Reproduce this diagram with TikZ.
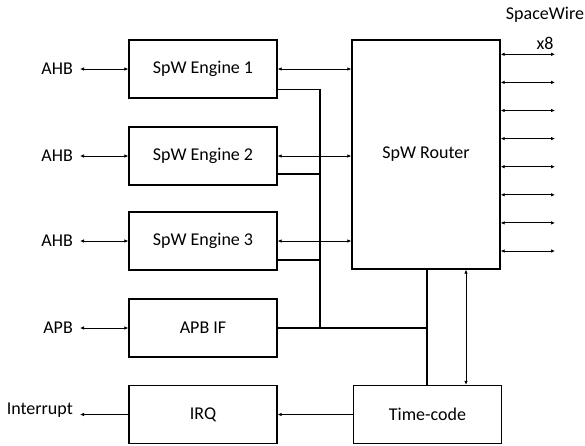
\documentclass[tikz,border=0pt]{standalone}
\usepackage{fontspec}
\setmainfont{Carlito}
\usetikzlibrary{positioning,arrows.meta,calc}
\tikzset{
  blk/.style={rectangle, draw=black, line width=1.4pt, minimum width=148pt,
              font=\fontsize{18}{21}\selectfont, inner sep=0pt},
  lbl/.style={font=\fontsize{18}{21}\selectfont, inner sep=0pt},
  port/.style={lbl, anchor=east, inner xsep=7pt},
  ar/.style={{Latex[length=4pt,width=3.6pt]}-{Latex[length=4pt,width=3.6pt]}, line width=0.9pt},
  ar1/.style={-{Latex[length=4pt,width=3.6pt]}, line width=0.9pt},
  bus/.style={line width=1.1pt},
}
\begin{document}
\begin{tikzpicture}[x=1pt, y=-1pt]
  \useasboundingbox (0,0) rectangle (585,445);

  % engines and interfaces
  \node[blk, minimum height=58pt] (eng1) at (203,69) {SpW Engine 1};
  \node[blk, minimum height=58pt] (eng2) at (203,156) {SpW Engine 2};
  \node[blk, minimum height=58pt] (eng3) at (203,241) {SpW Engine 3};
  \node[blk, minimum height=58pt] (apbif) at (203,328) {APB IF};
  \node[blk, minimum height=58pt] (irq) at (203,414.5) {IRQ};

  % router and time-codes
  \node[blk, minimum height=229pt] (router) at (426,154.5) {SpW Router};
  \node[blk, minimum height=58pt] (tcode) at (427.5,414.5) {Time-code};

  % bus ports
  \node[port] (ahb1) at (80,69) {AHB};
  \node[port] (ahb2) at (80,156) {AHB};
  \node[port] (ahb3) at (80,241) {AHB};
  \node[port] (apb) at (80,328) {APB};
  \node[port] (intr) at (80,410) {Interrupt};
  \draw[ar] (ahb1.east) -- (eng1.west);
  \draw[ar] (ahb2.east) -- (eng2.west);
  \draw[ar] (ahb3.east) -- (eng3.west);
  \draw[ar] (apb.east) -- (apbif.west);
  \draw[ar1] (irq.west) -- (irq.west -| intr.east);

  % engines to router
  \draw[ar] (eng1.east) -- (router.west |- eng1.east);
  \draw[ar] (eng2.east) -- (router.west |- eng2.east);
  \draw[ar] (eng3.east) -- (router.west |- eng3.east);

  % time-code bus
  \coordinate (j1) at (320,89.5);
  \coordinate (j2) at (320,174);
  \coordinate (j3) at (320,260);
  \coordinate (j4) at (320,328);
  \coordinate (j5) at (427,328);
  \draw[bus] (eng1.east |- j1) -- (j1) -- (j4);
  \draw[bus] (eng2.east |- j2) -- (j2);
  \draw[bus] (eng3.east |- j3) -- (j3);
  \draw[bus] (apbif.east) -- (j5);
  \draw[bus] (router.south -| j5) -- (tcode.north -| j5);
  \coordinate (tc) at (466,300);
  \draw[ar] (router.south -| tc) -- (tcode.north -| tc);
  \draw[ar1] (tcode.west) -- (irq.east);

  % spacewire links
  \node[lbl] (swlbl) at (545,15) {SpaceWire};
  \node[lbl] (x8) at (545,43) {x8};
  \foreach \i in {0,...,7}{
    \coordinate (sw\i) at (555,{54.3+28.1*\i});
    \draw[ar] (router.east |- sw\i) -- (sw\i);
  }
\end{tikzpicture}
\end{document}
